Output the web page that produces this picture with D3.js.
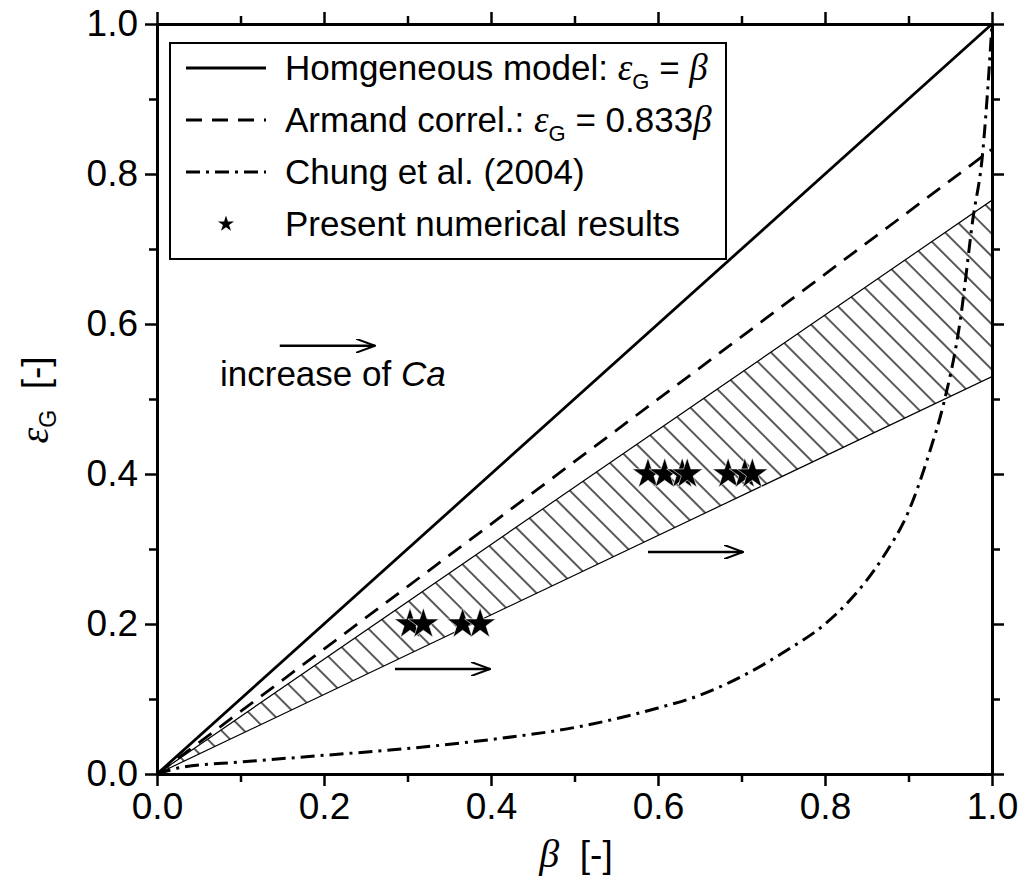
<!DOCTYPE html>
<html>
<head>
<meta charset="utf-8">
<script src="https://cdn.jsdelivr.net/npm/d3@7"></script>
<style>
body { margin: 0; background: #fff; }
text { font-family: "Liberation Sans", Arial, sans-serif; fill: #000; }
.greek { font-family: "Liberation Serif", "Times New Roman", serif; font-style: italic; }
</style>
</head>
<body>
<div id="chart"></div>
<script>
// Data
const homogeneous = [[0, 0], [1, 1]];
const armand = [[0, 0], [1, 0.833]];
const chung = [
    [0, 0], [0.03, 0.009], [0.1, 0.016], [0.19, 0.024], [0.3, 0.034], [0.4, 0.046],
    [0.5, 0.062], [0.6, 0.088], [0.65, 0.105], [0.7, 0.13], [0.75, 0.162], [0.8, 0.2],
    [0.83, 0.232], [0.87, 0.29], [0.9, 0.35], [0.926, 0.432], [0.941, 0.489],
    [0.962, 0.605], [0.977, 0.739], [0.989, 0.83], [0.995, 0.915], [1.0, 1.0]
];
const bandUpper = [[0, 0], [1, 0.765]];
const bandLower = [[0, 0], [1, 0.53]];
const starBeta = [0.303, 0.319, 0.366, 0.387, 0.588, 0.608, 0.629, 0.635, 0.684, 0.704, 0.713];
const starEps = [0.2, 0.2, 0.2, 0.2, 0.4, 0.4, 0.4, 0.4, 0.4, 0.4, 0.4];
const majorTicks = [0, 0.2, 0.4, 0.6, 0.8, 1.0];
const minorTicks = [0.1, 0.3, 0.5, 0.7, 0.9];
// arrows: [beta0, beta1, eps]
const arrows = [[0.147, 0.261, 0.571], [0.285, 0.399, 0.14], [0.588, 0.702, 0.296]];

const W = 1027, H = 880;
const svg = d3.select("#chart").append("svg")
    .attr("width", W)
    .attr("height", H);

const x = d3.scaleLinear().domain([0, 1]).range([157, 992]);
const y = d3.scaleLinear().domain([0, 1]).range([774, 24]);

const defs = svg.append("defs");
const hs = 16;
defs.append("pattern")
    .attr("id", "hatch")
    .attr("patternUnits", "userSpaceOnUse")
    .attr("width", hs)
    .attr("height", hs)
    .attr("patternTransform", "rotate(-45)")
    .append("line")
    .attr("x1", hs / 2).attr("y1", 0)
    .attr("x2", hs / 2).attr("y2", hs)
    .attr("stroke", "#000")
    .attr("stroke-width", 1.3);

defs.append("marker")
    .attr("id", "arrow")
    .attr("viewBox", "0 0 20 14")
    .attr("refX", 19).attr("refY", 7)
    .attr("markerWidth", 20).attr("markerHeight", 14)
    .attr("markerUnits", "userSpaceOnUse")
    .attr("orient", "auto")
    .append("path")
    .attr("d", "M0,0 L19,7 L0,14")
    .attr("fill", "none")
    .attr("stroke", "#000")
    .attr("stroke-width", 2);

// Hatched band
const band = bandUpper.concat(bandLower.slice().reverse());
svg.append("path")
    .attr("d", "M" + band.map(d => [x(d[0]), y(d[1])].join(",")).join("L") + "Z")
    .attr("fill", "url(#hatch)")
    .attr("stroke", "#000")
    .attr("stroke-width", 1.2);

const line = d3.line().x(d => x(d[0])).y(d => y(d[1]));

svg.append("path").datum(homogeneous)
    .attr("d", line).attr("fill", "none")
    .attr("stroke", "#000").attr("stroke-width", 2.8);

svg.append("path").datum(armand)
    .attr("d", line).attr("fill", "none")
    .attr("stroke", "#000").attr("stroke-width", 2.8)
    .attr("stroke-dasharray", "16,10");

svg.append("path").datum(chung)
    .attr("d", line.curve(d3.curveMonotoneX)).attr("fill", "none")
    .attr("stroke", "#000").attr("stroke-width", 3)
    .attr("stroke-dasharray", "14,6,3,6");

// Stars
const star = d3.symbol(d3.symbolStar).size(300);
svg.selectAll(".star")
    .data(starBeta)
    .enter().append("path")
    .attr("class", "star")
    .attr("transform", (d, i) => `translate(${x(d)},${y(starEps[i])})`)
    .attr("d", star)
    .attr("fill", "#000")
    .attr("stroke", "#fff")
    .attr("stroke-width", 0.6);

// Arrows
svg.selectAll(".arrow")
    .data(arrows)
    .enter().append("line")
    .attr("x1", d => x(d[0])).attr("x2", d => x(d[1]))
    .attr("y1", d => y(d[2])).attr("y2", d => y(d[2]))
    .attr("stroke", "#000").attr("stroke-width", 2.5)
    .attr("marker-end", "url(#arrow)");

const ann = svg.append("text")
    .attr("x", 220).attr("y", 386)
    .style("font-size", "35px");
ann.append("tspan").text("increase of ");
ann.append("tspan").style("font-style", "italic").text("Ca");

// Axes
const fmt = d3.format(".1f");
function styleAxis(g) {
    g.selectAll("path.domain").attr("stroke", "#000").attr("stroke-width", 3);
    g.selectAll(".tick line").attr("stroke", "#000").attr("stroke-width", 2.5);
    g.selectAll(".tick text").style("font-size", "37px").attr("fill", "#000")
        .style("font-family", "'Liberation Sans', Arial, sans-serif");
}
const sides = [
    [d3.axisBottom, x, `translate(0,${y(0)})`, true],
    [d3.axisTop, x, `translate(0,${y(1)})`, false],
    [d3.axisLeft, y, `translate(${x(0)},0)`, true],
    [d3.axisRight, y, `translate(${x(1)},0)`, false]
];
sides.forEach(([gen, sc, tr, lab]) => {
    const gMinor = svg.append("g").attr("transform", tr)
        .call(gen(sc).tickValues(minorTicks).tickSize(8).tickSizeOuter(0).tickFormat(""));
    styleAxis(gMinor);
    const g = svg.append("g").attr("transform", tr)
        .call(gen(sc).tickValues(majorTicks).tickSize(12).tickSizeOuter(0).tickPadding(7)
            .tickFormat(lab ? fmt : ""));
    styleAxis(g);
});

// Axis titles
const xt = svg.append("text")
    .attr("x", 576).attr("y", 867)
    .attr("text-anchor", "middle")
    .style("font-size", "37px");
xt.append("tspan").attr("class", "greek").style("font-size", "40px").text("β");
xt.append("tspan").text("\u00a0\u00a0[-]");

const yt = svg.append("text")
    .attr("transform", "translate(48,400) rotate(-90)")
    .attr("text-anchor", "middle")
    .style("font-size", "37px");
yt.append("tspan").attr("class", "greek").style("font-size", "40px").text("ε");
yt.append("tspan").attr("dy", 8).style("font-size", "23px").text("G");
yt.append("tspan").attr("dy", -8).text("\u00a0\u00a0[-]");

// Legend
const lg = svg.append("g");
lg.append("rect")
    .attr("x", 170).attr("y", 43)
    .attr("width", 556).attr("height", 216)
    .attr("fill", "#fff")
    .attr("stroke", "#000").attr("stroke-width", 2);

const legendRows = [
    { dash: null, parts: [["Homgeneous model: ", 0], ["ε", 1], ["G", 2], [" = ", 0], ["β", 1]] },
    { dash: "16,10", parts: [["Armand correl.: ", 0], ["ε", 1], ["G", 2], [" = 0.833", 0], ["β", 1]] },
    { dash: "14,6,3,6", parts: [["Chung et al. (2004)", 0]] },
    { dash: "star", parts: [["Present numerical results", 0]] }
];
legendRows.forEach((r, i) => {
    const cy = 68 + i * 52;
    if (r.dash === "star") {
        lg.append("path")
            .attr("transform", `translate(226,${cy})`)
            .attr("d", d3.symbol(d3.symbolStar).size(80))
            .attr("fill", "#000");
    } else {
        lg.append("line")
            .attr("x1", 186).attr("x2", 266)
            .attr("y1", cy).attr("y2", cy)
            .attr("stroke", "#000").attr("stroke-width", 2.8)
            .attr("stroke-dasharray", r.dash);
    }
    const t = lg.append("text")
        .attr("x", 285).attr("y", cy + 12)
        .style("font-size", "35px");
    let sub = false;
    r.parts.forEach(([s, kind]) => {
        const ts = t.append("tspan").text(s.replace(/ /g, "\u00a0"));
        if (kind === 1) ts.attr("class", "greek").style("font-size", "37px");
        if (kind === 2) { ts.style("font-size", "22px").attr("dy", 9); sub = true; }
        else if (sub) { ts.attr("dy", -9); sub = false; }
    });
});
</script>
</body>
</html>
